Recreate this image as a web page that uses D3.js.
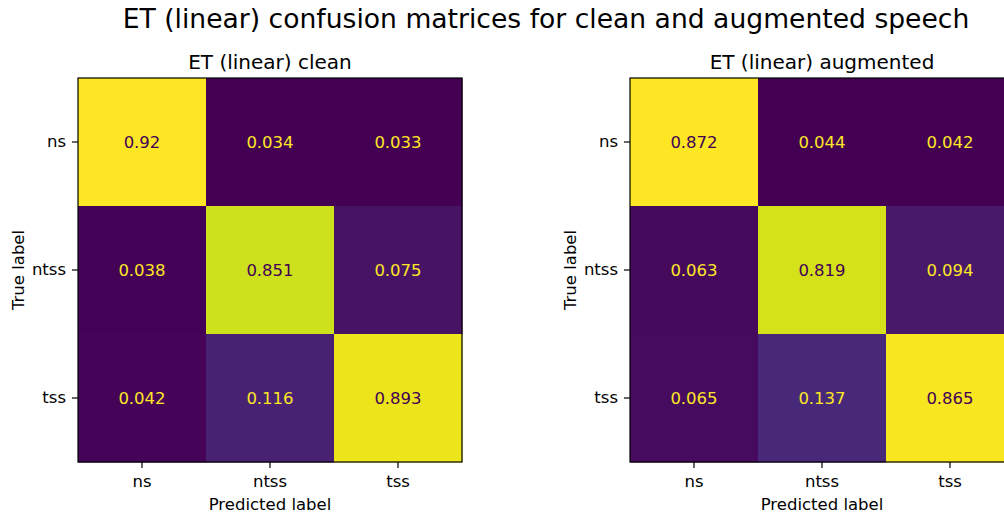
<!DOCTYPE html>
<html><head><meta charset="utf-8">
<script src="https://cdn.jsdelivr.net/npm/d3@7"></script>
<style>body{margin:0;background:#fff;} text{font-family:"DejaVu Sans",sans-serif;}</style>
</head><body>
<svg id="chart" width="1004" height="513"></svg>
<script>
const labels = ["ns", "ntss", "tss"];
const cleanValues = [
  [0.92, 0.034, 0.033],
  [0.038, 0.851, 0.075],
  [0.042, 0.116, 0.893]
];
const augValues = [
  [0.872, 0.044, 0.042],
  [0.063, 0.819, 0.094],
  [0.065, 0.137, 0.865]
];
const cleanValueText = ["0.92","0.034","0.033","0.038","0.851","0.075","0.042","0.116","0.893"];
const augValueText = ["0.872","0.044","0.042","0.063","0.819","0.094","0.065","0.137","0.865"];
const mainTitle = "ET (linear) confusion matrices for clean and augmented speech";
const panelTitles = ["ET (linear) clean", "ET (linear) augmented"];

const svg = d3.select("#chart");
svg.append("text").attr("x", 546).attr("y", 28).attr("text-anchor", "middle")
  .style("font-size", "26.6px").text(mainTitle);

function drawPanel(values, texts, title, left) {
  const top = 78, size = 384;
  const x = d3.scaleBand().domain(labels).range([left, left + size]);
  const y = d3.scaleBand().domain(labels).range([top, top + size]);
  const flat = values.flat();
  const vmin = d3.min(flat), vmax = d3.max(flat);
  const color = d3.scaleSequential(d3.interpolateViridis).domain([vmin, vmax]);
  const thresh = (vmin + vmax) / 2;
  const g = svg.append("g");
  const cells = [];
  values.forEach((row, i) => row.forEach((v, j) => cells.push({r: labels[i], c: labels[j], v, t: texts[i*3+j]})));
  g.selectAll("rect.cell").data(cells).join("rect")
    .attr("x", d => x(d.c)).attr("y", d => y(d.r))
    .attr("width", x.bandwidth() + 0.5).attr("height", y.bandwidth() + 0.5)
    .attr("fill", d => color(d.v));
  g.selectAll("text.val").data(cells).join("text")
    .attr("x", d => x(d.c) + x.bandwidth()/2).attr("y", d => y(d.r) + y.bandwidth()/2)
    .attr("text-anchor", "middle").attr("dominant-baseline", "central")
    .style("font-size", "16.5px")
    .attr("fill", d => d.v < thresh ? color(vmax) : color(vmin))
    .text(d => d.t);
  g.append("rect").attr("x", left).attr("y", top).attr("width", size).attr("height", size)
    .attr("fill", "none").attr("stroke", "#000").attr("stroke-width", 1.2);
  const xa = g.append("g").attr("transform", `translate(0,${top+size})`)
    .call(d3.axisBottom(x).tickSize(6).tickPadding(7));
  const ya = g.append("g").attr("transform", `translate(${left},0)`)
    .call(d3.axisLeft(y).tickSize(6).tickPadding(6));
  [xa, ya].forEach(a => {
    a.select(".domain").remove();
    a.selectAll("text").style("font-size", "16.5px").style("font-family", "DejaVu Sans").attr("fill", "#000");
    a.selectAll("line").attr("stroke", "#000").attr("stroke-width", 1.2);
  });
  g.append("text").attr("x", left + size/2).attr("y", 69).attr("text-anchor", "middle")
    .style("font-size", "20px").text(title);
  g.append("text").attr("x", left + size/2).attr("y", 510).attr("text-anchor", "middle")
    .style("font-size", "16.5px").text("Predicted label");
  g.append("text").attr("transform", `translate(${left - 54},${top + size/2}) rotate(-90)`)
    .attr("text-anchor", "middle").style("font-size", "16.5px").text("True label");
}
drawPanel(cleanValues, cleanValueText, panelTitles[0], 78);
drawPanel(augValues, augValueText, panelTitles[1], 630);
</script>
</body></html>
